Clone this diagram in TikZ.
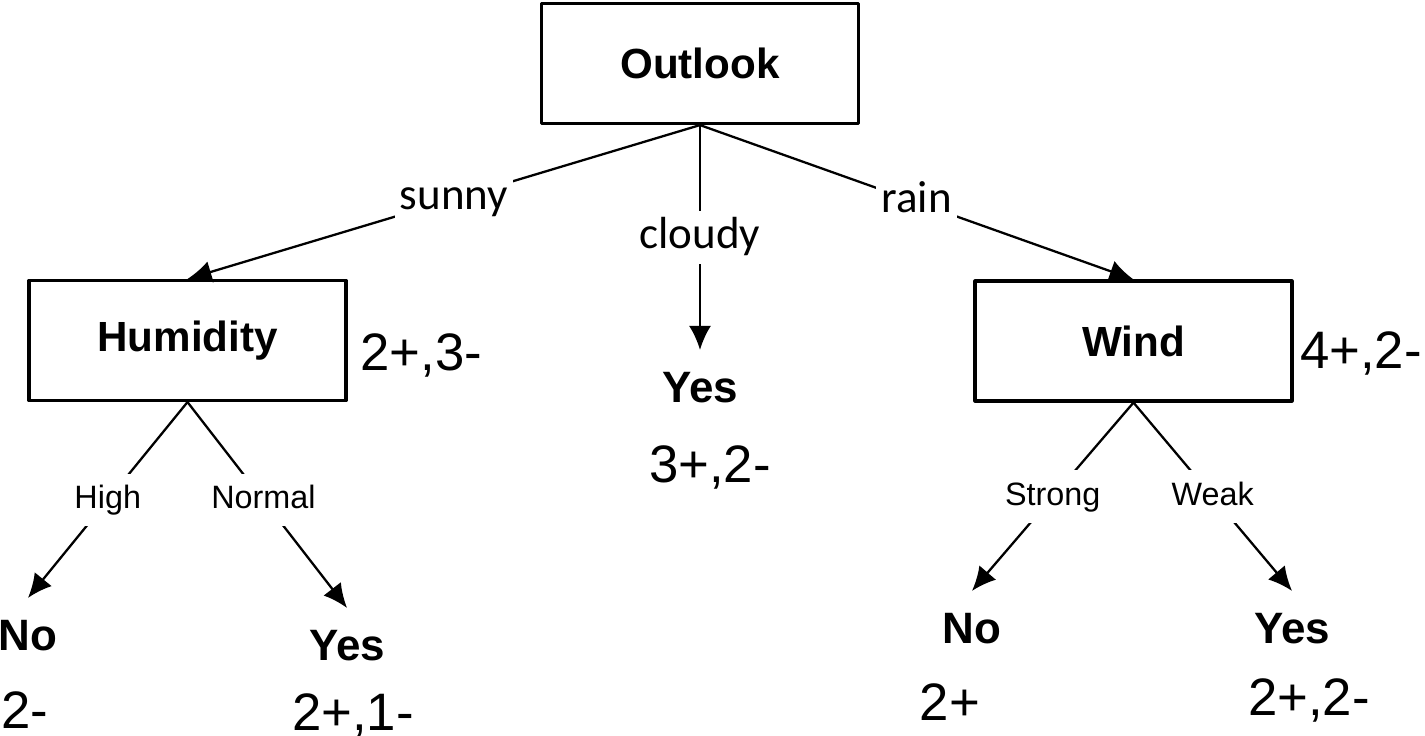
\documentclass[tikz,border=0pt]{standalone}
\usepackage{fontspec}
\setmainfont{Liberation Sans}
\newfontfamily\carlito{Carlito}
\usetikzlibrary{arrows.meta}

\tikzset{
	attrbox/.style={draw, line width=0.9pt, minimum width=3.17cm, minimum height=1.2cm, font=\fontsize{12}{14}\bfseries\selectfont},
	leaf/.style={anchor=base, text height=9pt, inner sep=5.5pt, font=\fontsize{12.5}{14}\bfseries\selectfont},
	count/.style={anchor=base, font=\fontsize{15}{17}\selectfont},
	bigbranch/.style={fill=white, text height=9pt, text depth=3pt, inner sep=1.5pt, font=\carlito\fontsize{12.8}{14}\selectfont},
	smallbranch/.style={fill=white, text height=7pt, text depth=2pt, inner sep=3pt, font=\fontsize{9.2}{11}\selectfont}
}

\begin{document}
\begin{tikzpicture}[>={Latex[length=2.4mm,width=2.2mm]}, line width=0.65pt, line join=round, line cap=round]
			\useasboundingbox (0,0) rectangle (14.25,-7.36);
			\node[attrbox] (outlook) at (7.0,-0.635) {Outlook};
			\node[attrbox] (humidity) at (1.875,-3.405) {Humidity};
			\node[attrbox] (wind) at (11.335,-3.41) {Wind};
			\node[count] (cntH) at (4.215,-3.70) {2+,3-};
			\node[count] (cntW) at (13.61,-3.68) {4+,2-};
			\node[leaf] (yesC) at (7.0,-4.02) {Yes};
			\node[count] (cntC) at (7.1,-4.82) {3+,2-};
			\node[leaf] (noH) at (0.28,-6.50) {No};
			\node[count] (cntNoH) at (0.25,-7.28) {2-};
			\node[leaf] (yesH) at (3.47,-6.60) {Yes};
			\node[count] (cntYesH) at (3.53,-7.30) {2+,1-};
			\node[leaf] (noW) at (9.72,-6.43) {No};
			\node[count] (cntNoW) at (9.50,-7.20) {2+};
			\node[leaf] (yesW) at (12.92,-6.43) {Yes};
			\node[count] (cntYesW) at (13.09,-7.15) {2+,2-};
			\draw[->] (outlook.south) -- node[bigbranch,pos=0.48] {sunny} (humidity.north);
			\draw[->] (outlook.south) -- node[bigbranch,pos=0.5] {cloudy} (yesC.north);
			\draw[->] (outlook.south) -- node[bigbranch] {rain} (wind.north);
			\draw[->] (humidity.south) -- node[smallbranch] {High} (noH.north);
			\draw[->] (humidity.south) -- node[smallbranch,pos=0.476] {Normal} (yesH.north);
			\draw[->] (wind.south) -- node[smallbranch] {Strong} (noW.north);
			\draw[->] (wind.south) -- node[smallbranch] {Weak} (yesW.north);
		\end{tikzpicture}
\end{document}
